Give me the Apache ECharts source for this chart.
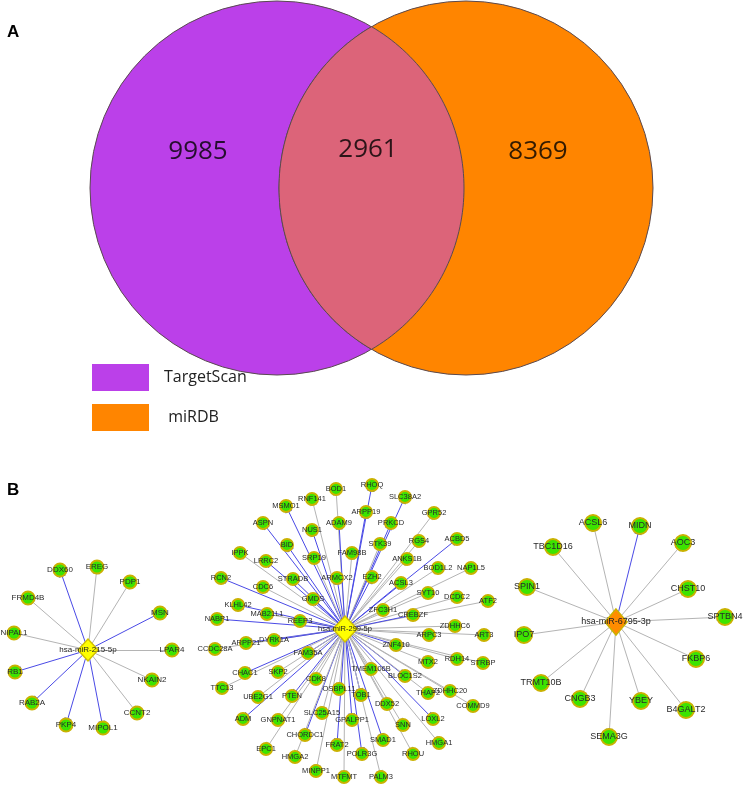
<!DOCTYPE html>
<html><head><meta charset="utf-8">
<script src="https://cdn.jsdelivr.net/npm/echarts@6/dist/echarts.min.js"></script>
<style>html,body{margin:0;padding:0;background:#fff}#c{width:743px;height:785px}</style>
</head><body><div id="c"></div>
<script>
// ---------------- DATA ----------------
const vennSets = ['TargetScan', 'miRDB'];
const vennCounts = [9985, 2961, 8369]; // only TargetScan, both, only miRDB

const leftHub = 'hsa-miR-215-5p';
const leftTargets = ['DDX60','EREG','PDP1','FRMD4B','MSN','NIPAL1','LPAR4','RB1','NKAIN2','RAB2A','CCNT2','PKP4','MIPOL1'];
const leftInhibit = [1,0,0,0,1,0,0,1,0,1,0,1,1];

const midHub = 'hsa-miR-299-5p';
const midTargets = ['BOD1','RNF141','MSMO1','ASPN','NUS1','ADAM9','RHOQ','ARPP19','SLC38A2','PRKCD',
  'GPR52','STK39','FAM98B','RGS4','ACBD5','ANKS1B','BOD1L2','NAP1L5','EZH2','ACSL3',
  'SYT10','DCDC2','ATF2','ZFC3H1','CREBZF','IPPK','LRRC2','BID','SRP19','STRADB',
  'ARMCX2','RCN2','CDC6','GMDS','KLHL42','MAB21L1','NABP1','REEP3','ARPP21','CCDC28A',
  'DYRK1A','FAM35A','CHAC1','SKP2','TTC13','CDK8','UBE2G1','PTEN','OSBPL11','ADM',
  'GNPNAT1','SLC25A15','GPALPP1','CHORDC1','FRAT2','EPC1','HMGA2','POLR3G','MINPP1','MTFMT',
  'TMEM106B','TOB1','ZDHHC6','ARPC3','ART3','ZNF410','MTX2','RDH14','STRBP','BLOC1S2',
  'THAP2','ZDHHC20','COMMD9','DDX52','LOXL2','SNN','SMAD1','HMGA1','RHOU','PALM3'];
const midInhibit = [0,0,1,1,1,1,1,1,1,1,
  0,0,0,0,1,0,0,0,1,1,
  0,0,0,0,1,0,1,1,0,1,
  1,1,0,1,1,0,1,1,1,0,
  1,1,1,0,0,0,0,1,0,1,
  0,0,1,1,1,0,0,1,0,0,
  0,1,0,0,0,1,0,0,0,1,
  0,0,0,0,1,0,1,0,0,0];

const rightHub = 'hsa-miR-6795-3p';
const rightTargets = ['ACSL6','MIDN','TBC1D16','AOC3','SPIN1','CHST10','SPTBN4','IPO7','FKBP6','TRMT10B','CNGB3','YBEY','B4GALT2','SEMA3G'];
const rightInhibit = [0,1,0,0,0,0,0,0,0,0,0,0,0,0];

// ---------------- LAYOUT (positions in the page's coordinate frame) ----------------
const vennLayout = { centers: [[277,188],[466,188]], r: 187, labelPos: [[198,152],[368,150],[538,152]] };
const leftLayout = { hub: [88,650], nodes: [[60,570],[97,567],[130,582],[28,598],[160,613],[14,633],[172,650],[15,672],[152,680],[32,703],[137,713],[66,725],[103,728]] };
const midLayout = { hub: [345,629], nodes: [
  [336,489],[312,499],[286,506],[263,523],[312,530],[339,523],[372,485],[366,512],[405,497],[391,523],
  [434,513],[380,544],[352,553],[419,541],[457,539],[407,559],[438,568],[471,568],[372,577],[401,583],
  [428,593],[457,597],[488,601],[383,610],[413,615],[240,553],[266,561],[287,545],[314,558],[293,579],
  [337,578],[221,578],[263,587],[313,599],[238,605],[267,614],[217,619],[300,621],[246,643],[215,649],
  [274,640],[308,653],[245,673],[278,672],[222,688],[316,679],[258,697],[292,696],[339,689],[243,719],
  [278,720],[322,713],[352,720],[305,735],[337,745],[266,749],[295,757],[362,754],[316,771],[344,777],
  [371,669],[361,695],[455,626],[429,635],[484,635],[396,645],[428,662],[457,659],[483,663],[405,676],
  [428,693],[450,691],[473,706],[387,704],[433,719],[403,725],[383,740],[439,743],[413,754],[381,777]] };
const rightLayout = { hub: [616,622], nodes: [[593,523],[640,526],[553,547],[683,543],[527,587],[688,589],[725,617],[524,635],[696,659],[541,683],[580,699],[641,701],[686,710],[609,737]] };

// ---------------- STYLES ----------------
const vennColors = ['#BB40E9', '#FF8500'];
const lensColor = '#DC6479';
const BLUE = '#4A4AE6', GRAY = '#B4B4B4';
const TBAR = 'path://M0,4.2 L10,4.2 L10,5.8 L0,5.8 Z M5,0 L5,0.01 M5,10 L5,10.01';

function buildNet(hub, layout, targets, inhibit, o) {
  const nodes = [{
    name: hub, value: layout.hub, symbol: 'diamond', symbolSize: o.hubSize,
    itemStyle: { color: o.hubColor, borderColor: o.hubBorder, borderWidth: 1.5 },
    label: { fontSize: o.font, color: '#222' }, z: 5
  }];
  const links = [];
  targets.forEach((t, i) => {
    nodes.push({ name: t, value: layout.nodes[i] });
    links.push({ source: hub, target: t, lineStyle: { color: inhibit[i] ? BLUE : GRAY, width: 1 } });
  });
  return {
    type: 'graph', layout: 'none', coordinateSystem: 'cartesian2d', roam: false, silent: true,
    data: nodes, links: links, z: 3,
    symbol: 'circle', symbolSize: o.nodeSize,
    itemStyle: { color: '#3CE400', borderColor: '#C9B200', borderWidth: 2 },
    label: { show: true, position: 'inside', fontSize: o.font, fontFamily: 'Arial', color: '#2a2a2a' },
    edgeSymbol: ['none', TBAR], edgeSymbolSize: 7,
    lineStyle: { opacity: 1, curveness: 0 }
  };
}

const series = [];
vennSets.forEach((s, i) => {
  series.push({
    name: s, type: 'custom', coordinateSystem: 'cartesian2d', silent: true,
    itemStyle: { color: vennColors[i] },
    data: [[vennLayout.centers[i][0], vennLayout.centers[i][1], vennLayout.r]],
    renderItem: (params, api) => {
      const c = api.coord([api.value(0), api.value(1)]);
      const rr = Math.abs(api.coord([api.value(0) + api.value(2), api.value(1)])[0] - c[0]);
      return { type: 'circle', shape: { cx: c[0], cy: c[1], r: rr }, style: { fill: api.visual('color'), stroke: '#5a4a50', lineWidth: 1 } };
    }
  });
});
// intersection lens
series.push({
  type: 'custom', coordinateSystem: 'cartesian2d', silent: true,
  data: [[vennLayout.centers[0][0], vennLayout.centers[1][0], vennLayout.centers[0][1], vennLayout.r]],
  renderItem: (params, api) => {
    const x1 = api.value(0), x2 = api.value(1), cy = api.value(2), r = api.value(3);
    const a0 = Math.acos((x2 - x1) / 2 / r);
    const pts = [];
    const N = 80;
    for (let k = 0; k <= N; k++) { const a = -a0 + 2 * a0 * k / N; pts.push(api.coord([x1 + r * Math.cos(a), cy + r * Math.sin(a)])); }
    for (let k = 0; k <= N; k++) { const a = a0 - 2 * a0 * k / N; pts.push(api.coord([x2 - r * Math.cos(a), cy + r * Math.sin(a)])); }
    return { type: 'polygon', shape: { points: pts }, style: { fill: lensColor, stroke: '#5a4a50', lineWidth: 1 } };
  }
});
series.push({
  type: 'scatter', silent: true, symbolSize: 0,
  data: vennCounts.map((v, i) => [vennLayout.labelPos[i][0], vennLayout.labelPos[i][1], v]),
  label: { show: true, position: 'inside', formatter: p => String(p.value[2]), fontSize: 26, fontFamily: 'Open Sans', color: '#000' }
});
series.push(buildNet(leftHub, leftLayout, leftTargets, leftInhibit, { hubSize: [20, 22], hubColor: '#FFFF00', hubBorder: '#D0C000', nodeSize: 13, font: 8 }));
series.push(buildNet(midHub, midLayout, midTargets, midInhibit, { hubSize: [24, 26], hubColor: '#FFFF00', hubBorder: '#D0C000', nodeSize: 12, font: 7.5 }));
series.push(buildNet(rightHub, rightLayout, rightTargets, rightInhibit, { hubSize: [22, 26], hubColor: '#FF8C00', hubBorder: '#C9B200', nodeSize: 16, font: 9 }));

const chart = echarts.init(document.getElementById('c'), null, { renderer: 'canvas' });
chart.setOption({
  animation: false,
  backgroundColor: '#fff',
  title: [
    { text: 'A', left: 7, top: 24, padding: 0, textStyle: { fontSize: 17, fontWeight: 'bold', fontFamily: 'Arial', color: '#000' } },
    { text: 'B', left: 7, top: 482, padding: 0, textStyle: { fontSize: 17, fontWeight: 'bold', fontFamily: 'Arial', color: '#000' } }
  ],
  legend: {
    data: vennSets, orient: 'vertical', left: 92, top: 364, padding: 0, itemWidth: 57, itemHeight: 27, itemGap: 13,
    icon: 'rect', selectedMode: false,
    formatter: n => n === 'miRDB' ? ' miRDB' : n,
    textStyle: { fontSize: 16, fontFamily: 'Open Sans', color: '#222', padding: [0, 0, 0, 10] }
  },
  grid: { left: 0, right: 0, top: 0, bottom: 0 },
  xAxis: { type: 'value', min: 0, max: 743, show: false },
  yAxis: { type: 'value', min: 0, max: 785, inverse: true, show: false },
  series: series
});
</script></body></html>
